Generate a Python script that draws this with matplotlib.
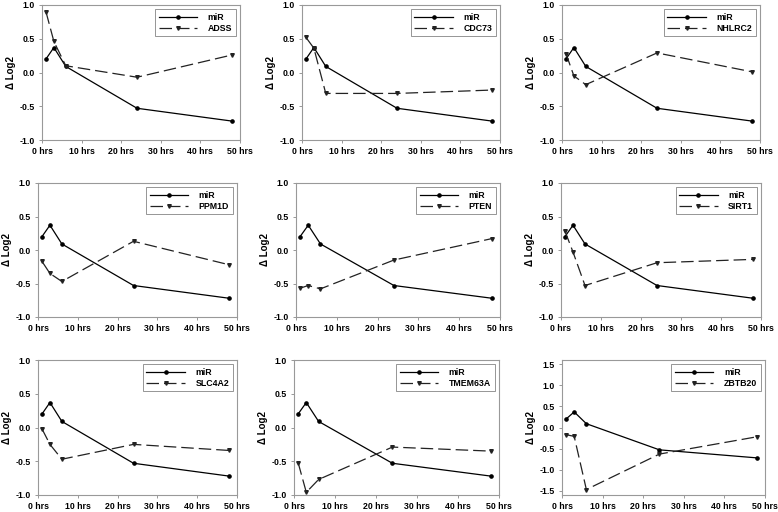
import matplotlib
matplotlib.use("Agg")
import matplotlib.pyplot as plt

plt.rcParams['font.family'] = ['Liberation Sans', 'DejaVu Sans']
plt.rcParams['font.weight'] = 'bold'

hours = [1, 3, 6, 24, 48]
mir = [0.20, 0.37, 0.09, -0.53, -0.72]

genes = ["ADSS", "CDC73", "NHLRC2", "PPM1D", "PTEN", "SIRT1", "SLC4A2", "TMEM63A", "ZBTB20"]
adss = [0.90, 0.46, 0.10, -0.07, 0.26]
cdc73 = [0.52, 0.36, -0.31, -0.31, -0.26]
nhlrc2 = [0.28, -0.05, -0.18, 0.29, 0.01]
ppm1d = [-0.17, -0.35, -0.47, 0.13, -0.22]
pten = [-0.57, -0.53, -0.58, -0.15, 0.17]
sirt1 = [0.28, -0.03, -0.53, -0.19, -0.14]
slc4a2 = [-0.02, -0.25, -0.47, -0.25, -0.34]
tmem63a = [-0.52, -0.96, -0.77, -0.29, -0.35]
zbtb20 = [-0.17, -0.21, -1.47, -0.63, -0.22]
gene_values = [adss, cdc73, nhlrc2, ppm1d, pten, sirt1, slc4a2, tmem63a, zbtb20]

xticks = [0, 10, 20, 30, 40, 50]
xticklabels = ["0 hrs", "10 hrs", "20 hrs", "30 hrs", "40 hrs", "50 hrs"]

W, H = 778, 512
# axes boxes in pixels: left, top, right, bottom
boxes = [
    (42, 5, 240, 140), (302, 5, 500, 140), (562, 5, 760, 140),
    (38, 183, 237, 317), (296, 183, 500, 317), (561, 183, 761, 317),
    (38, 360, 237, 495), (294, 360, 499, 495), (562, 360, 765, 495),
]

fig = plt.figure(figsize=(W / 100, H / 100), dpi=100)

for i, name in enumerate(genes):
    l, t, r, b = boxes[i]
    ax = fig.add_axes([l / W, 1 - b / H, (r - l) / W, (b - t) / H])
    ax.plot(hours, mir, color="black", lw=0.9, marker="o", ms=2.3, label="miR")
    ax.plot(hours, gene_values[i], color="#222222", lw=0.9, ls=(0, (10, 4)),
            marker="v", ms=2.6, label=name)
    ax.set_xlim(0, 50)
    ax.set_xticks(xticks)
    ax.set_xticklabels(xticklabels)
    if name == "ZBTB20":
        ax.set_ylim(-1.6, 1.6)
        ax.set_yticks([-1.5, -1.0, -0.5, 0.0, 0.5, 1.0, 1.5])
    else:
        ax.set_ylim(-1.0, 1.0)
        ax.set_yticks([-1.0, -0.5, 0.0, 0.5, 1.0])
    ax.yaxis.set_major_formatter(matplotlib.ticker.FormatStrFormatter("%.1f"))
    ax.set_ylabel("Δ Log2", fontsize=7, fontweight="bold", labelpad=3)
    ax.tick_params(labelsize=6.3, length=2, width=0.6, color="#888888", pad=3)
    for s in ax.spines.values():
        s.set_color("#999999")
        s.set_linewidth(0.8)
    leg = ax.legend(loc="upper right", fontsize=6.3, frameon=True, fancybox=False,
                    handlelength=4.4, borderpad=0.4, labelspacing=0.2,
                    borderaxespad=0.5, numpoints=1, handletextpad=1.2)
    leg.get_frame().set_edgecolor("#666666")
    leg.get_frame().set_linewidth(0.6)

fig.savefig("out.png", dpi=100)
